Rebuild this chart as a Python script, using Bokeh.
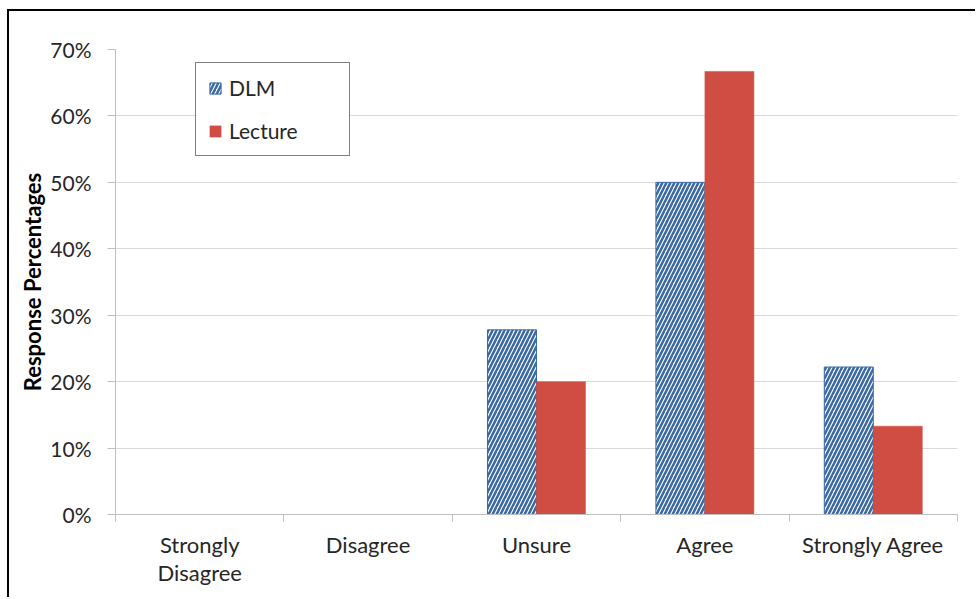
from bokeh.plotting import figure
from bokeh.models import (ColumnDataSource, Range1d, FixedTicker, NumeralTickFormatter,
                          Legend, LegendItem)
from bokeh.transform import dodge
from bokeh.embed import file_html
from bokeh.resources import INLINE

categories = ["Strongly\nDisagree", "Disagree", "Unsure", "Agree", "Strongly Agree"]
dlm = [0.0, 0.0, 0.278, 0.50, 0.222]
lecture = [0.0, 0.0, 0.20, 0.667, 0.133]
y_ticks = [0, 0.1, 0.2, 0.3, 0.4, 0.5, 0.6, 0.7]

centers = [i + 0.5 for i in range(len(categories))]
bounds = [i for i in range(len(categories) + 1)]

src = ColumnDataSource(data=dict(x=centers, dlm=dlm, lecture=lecture))

FONT = "Lato"

p = figure(width=968, height=588, output_backend="svg", toolbar_location=None,
           x_range=Range1d(0, len(categories)), y_range=Range1d(0, 0.7),
           min_border_left=106, min_border_right=20, min_border_top=38, min_border_bottom=85,
           margin=(9, 0, 0, 7))
p.styles = {"border-left": "2px solid #000", "border-top": "2px solid #000"}
p.outline_line_color = None
p.background_fill_color = "white"
p.border_fill_color = "white"

bw = 0.291
r1 = p.vbar(x=dodge("x", -bw / 2, range=p.x_range), top="dlm", width=bw, source=src,
            fill_color="white", line_color="#3b6aa0", line_width=1,
            hatch_pattern="/", hatch_color="#3b6aa0", hatch_scale=8, hatch_weight=2.5)
r2 = p.vbar(x=dodge("x", bw / 2, range=p.x_range), top="lecture", width=bw, source=src,
            fill_color="#d04d43", line_color="#d04d43", line_width=0.5)

# x axis: labels at centres, tick marks at category boundaries
p.xaxis.ticker = FixedTicker(ticks=centers, minor_ticks=bounds)
p.xaxis.major_label_overrides = {c: lab for c, lab in zip(centers, categories)}
p.xaxis.major_tick_out = 0
p.xaxis.major_tick_in = 0
p.xaxis.minor_tick_out = 7
p.xaxis.minor_tick_in = 0
p.xaxis.minor_tick_line_color = "#bfbfbf"
p.xaxis.axis_line_color = "#bfbfbf"
p.xaxis.major_label_text_font = FONT
p.xaxis.major_label_text_font_size = "22px"
p.xaxis.major_label_text_color = "#262626"
p.xaxis.major_label_text_line_height = 1.05
p.xaxis.major_label_standoff = 9
p.xgrid.visible = False

# y axis
p.yaxis.ticker = FixedTicker(ticks=y_ticks)
p.yaxis.formatter = NumeralTickFormatter(format="0%")
p.yaxis.major_tick_out = 8
p.yaxis.major_tick_in = 0
p.yaxis.minor_tick_line_color = None
p.yaxis.major_tick_line_color = "#bfbfbf"
p.yaxis.axis_line_color = "#bfbfbf"
p.yaxis.major_label_text_font = FONT
p.yaxis.major_label_text_font_size = "21px"
p.yaxis.major_label_text_color = "#262626"
p.yaxis.major_label_standoff = 16
p.yaxis.axis_label = "Response Percentages"
p.yaxis.axis_label_text_font = FONT
p.yaxis.axis_label_text_font_style = "bold"
p.yaxis.axis_label_text_font_size = "22px"
p.yaxis.axis_label_text_color = "#000000"
p.yaxis.axis_label_standoff = 1
p.ygrid.grid_line_color = "#d9d9d9"
p.ygrid.grid_line_width = 1

legend = Legend(items=[LegendItem(label="DLM", renderers=[r1]),
                       LegendItem(label="Lecture", renderers=[r2])],
                location=(80, 358))
legend.border_line_color = "#000000"
legend.border_line_width = 1
legend.background_fill_alpha = 1
legend.padding = 12
legend.spacing = 18
legend.glyph_width = 14
legend.glyph_height = 14
legend.label_height = 22
legend.label_width = 108
legend.label_standoff = 7
legend.label_text_font = FONT
legend.label_text_font_size = "21px"
legend.label_text_color = "#262626"
p.add_layout(legend, "center")

open("out.html", "w").write(file_html(p, INLINE))
